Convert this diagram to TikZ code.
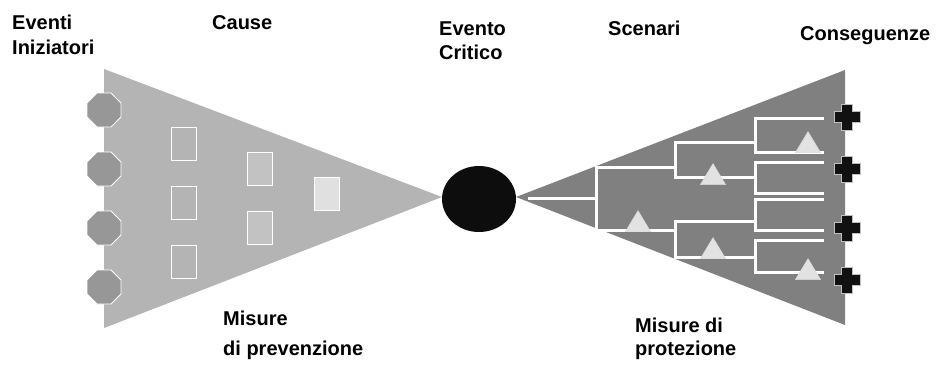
\documentclass[tikz,border=0pt]{standalone}
\usepackage{fontspec}
\setmainfont{Liberation Sans}
\usetikzlibrary{shapes.geometric}
\definecolor{lefttri}{HTML}{B4B4B4}
\definecolor{righttri}{HTML}{808080}
\definecolor{octgray}{HTML}{979797}
\definecolor{boxmid}{HTML}{C2C2C2}
\definecolor{boxlight}{HTML}{E0E0E0}
\definecolor{trigray}{HTML}{E2E2E2}
\definecolor{critblack}{HTML}{0D0D0D}
\definecolor{crossblack}{HTML}{111111}
\begin{document}
\begin{tikzpicture}[x=1pt,y=-1pt,
  lbl/.style={anchor=base west, inner sep=0pt, font=\bfseries\fontsize{20}{24}\selectfont},
  oct/.style={regular polygon, regular polygon sides=8, minimum size=36.8pt, inner sep=0pt, outer sep=0pt, fill=octgray, draw=white, line width=0.8pt},
  cbox/.style={rectangle, minimum width=25pt, minimum height=33pt, inner sep=0pt, draw=white, line width=1pt},
  tri/.style={isosceles triangle, isosceles triangle apex angle=62, shape border rotate=90, minimum height=21pt, inner sep=0pt, fill=trigray, draw=white!85!black, line width=0.5pt},
  branch/.style={draw=white, line width=3pt, line join=miter},
  crossmark/.style={fill=crossblack, draw=black!25, line width=1pt},
]
\useasboundingbox (0,0) rectangle (936,365);
\fill[white] (0,0) rectangle (936,365);

% bow-tie halves
\fill[lefttri] (104,69) -- (442,197) -- (104,328) -- cycle;
\fill[righttri] (516,197) -- (845,70) -- (845,325) -- cycle;

% initiating events
\foreach \y [count=\i] in {110,169,228,287}
  \node[oct] (ie\i) at (104,\y) {};

% causes
\node[cbox, fill=lefttri] (c1) at (183.5,143.5) {};
\node[cbox, fill=lefttri] (c2) at (183.5,202.5) {};
\node[cbox, fill=lefttri] (c3) at (183.5,261.5) {};
\node[cbox, fill=boxmid] (c4) at (259.5,168.5) {};
\node[cbox, fill=boxmid] (c5) at (259.5,228) {};
\node[cbox, fill=boxlight] (c6) at (327,194) {};

% critical event
\node[ellipse, fill=critblack, minimum width=74pt, minimum height=66pt, inner sep=0pt] (crit) at (479,199) {};

% event tree
\coordinate (r0) at (528,198);
\coordinate (r1) at (596,198);
\draw[branch] (r0) -- (r1);
\draw[branch] (675,167) -- (596,167) -- (596,230) -- (675,230);
\draw[branch] (755,142) -- (675,142) -- (675,177) -- (755,177);
\draw[branch] (755,221) -- (675,221) -- (675,257) -- (755,257);
\draw[branch] (824,118) -- (755,118) -- (755,152) -- (824,152);
\draw[branch] (824,162) -- (755,162) -- (755,193) -- (824,193);
\draw[branch] (824,199) -- (755,199) -- (755,230) -- (824,230);
\draw[branch] (824,240) -- (755,240) -- (755,272) -- (824,272);

% protection barriers
\node[tri] (t1) at (808,145.5) {};
\node[tri] (t2) at (713,177.5) {};
\node[tri] (t3) at (638,224.5) {};
\node[tri] (t4) at (713,251.5) {};
\node[tri] (t5) at (808,272.5) {};

% consequences
\foreach \y in {117,169,228,280}
  \filldraw[crossmark] (847,\y) ++(-5.5,-13) -- ++(11,0) -- ++(0,7.5) -- ++(7.5,0) -- ++(0,11) -- ++(-7.5,0) -- ++(0,7.5) -- ++(-11,0) -- ++(0,-7.5) -- ++(-7.5,0) -- ++(0,-11) -- ++(7.5,0) -- cycle;

% labels
\node[lbl] (l1a) at (12,29) {Eventi};
\node[lbl] (l1b) at (12,54) {Iniziatori};
\node[lbl] (l2) at (212,29) {Cause};
\node[lbl] (l3a) at (439,35) {Evento};
\node[lbl] (l3b) at (439,59) {Critico};
\node[lbl] (l4) at (608,35) {Scenari};
\node[lbl] (l5) at (800,40) {Conseguenze};
\node[lbl] (l6a) at (223,325) {Misure};
\node[lbl] (l6b) at (223,355) {di prevenzione};
\node[lbl] (l7a) at (635,332) {Misure di};
\node[lbl] (l7b) at (635,355) {protezione};
\end{tikzpicture}
\end{document}
